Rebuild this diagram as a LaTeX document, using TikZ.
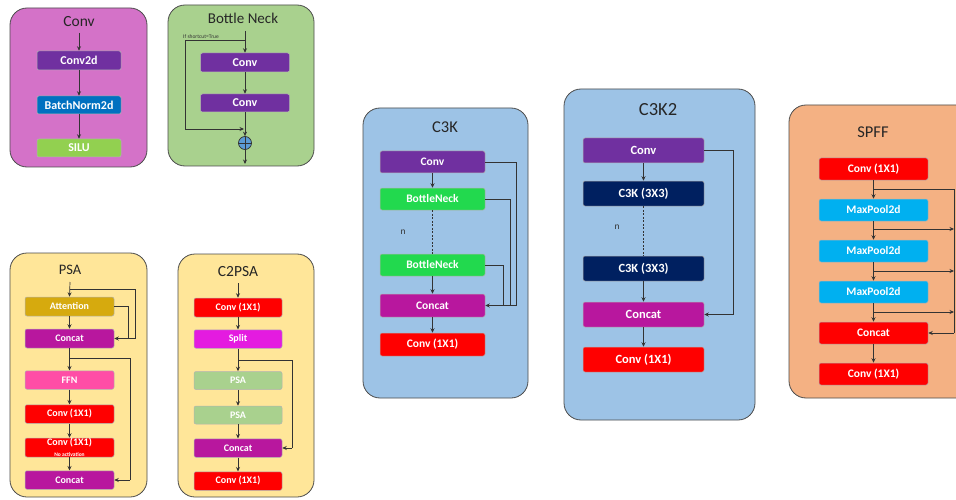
\documentclass[tikz,border=0pt]{standalone}
\usepackage{fontspec}
\setmainfont{Carlito}
\usetikzlibrary{arrows.meta,calc}
\definecolor{pConv}{HTML}{D472C8}
\definecolor{pGreen}{HTML}{A9D18E}
\definecolor{pYellow}{HTML}{FFE699}
\definecolor{pBlue}{HTML}{9DC3E6}
\definecolor{pOrange}{HTML}{F4B183}
\definecolor{cPurple}{HTML}{7030A0}
\definecolor{cBN}{HTML}{0070C0}
\definecolor{cSilu}{HTML}{92D050}
\definecolor{cAtt}{HTML}{D6AA0E}
\definecolor{cCat}{HTML}{B8179E}
\definecolor{cFFN}{HTML}{FF4DA6}
\definecolor{cSplit}{HTML}{E41BE0}
\definecolor{cPSA}{HTML}{A9D18E}
\definecolor{cBott}{HTML}{22D94E}
\definecolor{cNavy}{HTML}{002060}
\definecolor{cCyan}{HTML}{00B0F0}
\definecolor{cRed}{HTML}{FF0000}
\definecolor{cPlus}{HTML}{5B9BD5}
\begin{document}
\begin{tikzpicture}[x=1pt,y=-1pt,
  panel/.style={draw=black!70, line width=0.8pt, rounded corners=17pt},
  blk/.style={draw=black!30, line width=0.5pt, rounded corners=2pt, text=white, inner sep=0pt},
  ttl/.style={text=black!85, inner sep=0pt},
  ln/.style={draw=black!80, line width=0.7pt},
  arr/.style={ln, -{Stealth[length=4.5pt,width=4pt]}},
  fa/.style={font=\bfseries\fontsize{12}{12}\selectfont},
  fb/.style={font=\bfseries\fontsize{10}{10}\selectfont},
  fc/.style={font=\bfseries\fontsize{11.5}{12}\selectfont},
  fd/.style={font=\bfseries\fontsize{12.5}{13}\selectfont},
]
\clip (0,0) rectangle (956,500);
\fill[white] (0,0) rectangle (956,500);

% ---------------- Conv panel
\draw[panel, fill=pConv] (10,8) rectangle (147,167);
\node[ttl, font=\fontsize{15.5}{15.5}\selectfont] (convt) at (79,22) {Conv};
\coordinate (convin) at (79,33);
\node[blk, fa, fill=cPurple, minimum width=84pt, minimum height=19pt] (cv2d) at (79,60.5) {Conv2d};
\node[blk, fa, fill=cBN, minimum width=84pt, minimum height=18pt] (bn2d) at (79,105) {BatchNorm2d};
\node[blk, fa, fill=cSilu, minimum width=84pt, minimum height=18pt] (silu) at (79,148) {SILU};
\draw[arr] (convin) -- (cv2d.north);
\draw[arr] (cv2d.south) -- (bn2d.north);
\draw[arr] (bn2d.south) -- (silu.north);

% ---------------- Bottle Neck panel
\draw[panel, fill=pGreen] (168,5) rectangle (314,166);
\node[ttl, font=\fontsize{15}{15}\selectfont] (bnt) at (243,18) {Bottle Neck};
\coordinate (bnin) at (245,31);
\coordinate (bntap) at (245,40);
\coordinate (bnjoin) at (244,129);
\node[blk, fa, fill=cPurple, minimum width=89pt, minimum height=19pt] (bc1) at (245,62.5) {Conv};
\node[blk, fa, fill=cPurple, minimum width=89pt, minimum height=18pt] (bc2) at (245,103) {Conv};
\node[circle, draw=black!80, line width=0.7pt, fill=cPlus, minimum size=13pt, inner sep=0pt] (plus) at (245,143) {};
\draw[black!80, line width=0.7pt] (plus.north) -- (plus.south) (plus.west) -- (plus.east);
\coordinate (bnout) at (245,164);
\node[anchor=south west, inner sep=0pt, text=black!80, font=\fontsize{5.5}{5.5}\selectfont] (sclbl) at (183,38.5) {If shortcut=True};
\draw[arr] (bnin) -- (bc1.north);
\draw[arr] (bc1.south) -- (bc2.north);
\draw[arr] (bc2.south) -- (plus.north);
\draw[arr] (bntap) -- (185,40) -- (185,129) -- (bnjoin);
\draw[arr] (plus.south) -- (bnout);

% ---------------- PSA panel
\draw[panel, fill=pYellow] (10,253) rectangle (147,497);
\node[ttl, font=\fontsize{14.5}{14.5}\selectfont] (psat) at (70,270) {PSA};
\coordinate (psain) at (70,282);
\node[blk, fb, fill=cAtt, minimum width=89pt, minimum height=19pt] (att) at (69.5,306.5) {Attention};
\node[blk, fb, fill=cCat, minimum width=89pt, minimum height=19pt] (pcat1) at (69.5,338.5) {Concat};
\node[blk, fb, fill=cFFN, minimum width=89pt, minimum height=18.5pt] (ffn) at (69.5,380) {FFN};
\node[blk, fb, fill=cRed, minimum width=89pt, minimum height=18.5pt] (pconv1) at (69.5,414) {Conv (1X1)};
\node[blk, fill=cRed, minimum width=89pt, minimum height=19pt, align=center] (pconv2) at (69.5,447.5) {{\bfseries\fontsize{10}{10}\selectfont Conv (1X1)}\\[-1.5pt]{\bfseries\fontsize{5.5}{5.5}\selectfont No activation}};
\node[blk, fb, fill=cCat, minimum width=89pt, minimum height=18.5pt] (pcat2) at (69.5,480) {Concat};
\draw[arr] (psain) -- (att.north);
\draw[ln] (70,289) -- (135,289) -- (135,338.5);
\draw[ln] (att.east) -- (128,306.5) -- (128,338.5);
\draw[arr] (135,338.5) -- (pcat1.east);
\draw[arr] (pcat1.south) -- (ffn.north);
\draw[ln] (70,358) -- (130,358) -- (130,480);
\draw[arr] (130,480) -- (pcat2.east);
\draw[arr] (ffn.south) -- (pconv1.north);
\draw[arr] (pconv1.south) -- (pconv2.north);
\draw[arr] (pconv2.south) -- (pcat2.north);
\draw[arr] (att.south) -- (pcat1.north);

% ---------------- C2PSA panel
\draw[panel, fill=pYellow] (178,254) rectangle (314,497);
\node[ttl, font=\fontsize{15.5}{15.5}\selectfont] (c2t) at (238,272) {C2PSA};
\coordinate (c2in) at (238,283);
\node[blk, fb, fill=cRed, minimum width=88pt, minimum height=19pt] (c2conv) at (238,307.5) {Conv (1X1)};
\node[blk, fb, fill=cSplit, minimum width=88pt, minimum height=18.5pt] (split) at (238,339) {Split};
\node[blk, fb, fill=cPSA, minimum width=88pt, minimum height=18pt] (psa1) at (238,380.5) {PSA};
\node[blk, fb, fill=cPSA, minimum width=88pt, minimum height=18pt] (psa2) at (238,415) {PSA};
\node[blk, fb, fill=cCat, minimum width=88pt, minimum height=18.5pt] (c2cat) at (238,448) {Concat};
\node[blk, fb, fill=cRed, minimum width=88pt, minimum height=18.5pt] (c2out) at (238,481) {Conv (1X1)};
\draw[arr] (c2in) -- (c2conv.north);
\draw[arr] (c2conv.south) -- (split.north);
\draw[arr] (split.south) -- (psa1.north);
\draw[arr] (psa1.south) -- (psa2.north);
\draw[arr] (psa2.south) -- (c2cat.north);
\draw[arr] (c2cat.south) -- (c2out.north);
\draw[ln] (238,360) -- (292,360) -- (292,448);
\draw[arr] (292,448) -- (c2cat.east);

% ---------------- C3K panel
\draw[panel, fill=pBlue] (363,108) rectangle (528,398);
\node[ttl, font=\fontsize{16.5}{16.5}\selectfont] (c3t) at (445,127) {C3K};
\node[blk, fc, fill=cPurple, minimum width=105pt, minimum height=22pt] (k1conv) at (432.5,162) {Conv};
\node[blk, fc, fill=cBott, minimum width=105pt, minimum height=22pt] (kbn1) at (432.5,199) {BottleNeck};
\node[blk, fc, fill=cBott, minimum width=105pt, minimum height=22pt] (kbn2) at (432.5,265) {BottleNeck};
\node[blk, fc, fill=cCat, minimum width=105pt, minimum height=23pt] (kcat) at (432.5,305.5) {Concat};
\node[blk, fc, fill=cRed, minimum width=105pt, minimum height=23pt] (kout) at (432.5,344.5) {Conv (1X1)};
\node[text=black!80, font=\fontsize{9.5}{9.5}\selectfont, inner sep=0pt] (kn) at (403,232) {n};
\draw[arr] (k1conv.south) -- (kbn1.north);
\draw[ln, dashed, dash pattern=on 2pt off 1.5pt] (kbn1.south) -- (kbn2.north);
\draw[arr] (kbn2.south) -- (kcat.north);
\draw[arr] (kcat.south) -- (kout.north);
\draw[ln] (k1conv.east) -- (516,162) -- (516,305.5);
\draw[ln] (kbn1.east) -- (510,199) -- (510,305.5);
\draw[ln] (kbn2.east) -- (503,265) -- (503,305.5);
\draw[arr] (516,305.5) -- (kcat.east);

% ---------------- C3K2 panel
\draw[panel, fill=pBlue] (564,89) rectangle (755,420);
\node[ttl, font=\fontsize{18.5}{18.5}\selectfont] (c32t) at (658,110) {C3K2};
\node[blk, fd, fill=cPurple, minimum width=121pt, minimum height=25pt] (k2conv) at (643.5,150.5) {Conv};
\node[blk, fd, fill=cNavy, minimum width=121pt, minimum height=25pt] (k2a) at (643.5,193.5) {C3K (3X3)};
\node[blk, fd, fill=cNavy, minimum width=121pt, minimum height=25pt] (k2b) at (643.5,268.5) {C3K (3X3)};
\node[blk, fd, fill=cCat, minimum width=121pt, minimum height=25pt] (k2cat) at (643.5,314.5) {Concat};
\node[blk, fd, fill=cRed, minimum width=121pt, minimum height=25pt] (k2out) at (643.5,359.5) {Conv (1X1)};
\node[text=black!80, font=\fontsize{9.5}{9.5}\selectfont, inner sep=0pt] (k2n) at (617,227) {n};
\draw[arr] (k2conv.south) -- (k2a.north);
\draw[ln, dashed, dash pattern=on 2pt off 1.5pt] (k2a.south) -- (k2b.north);
\draw[arr] (k2b.south) -- (k2cat.north);
\draw[arr] (k2cat.south) -- (k2out.north);
\draw[ln] (k2conv.east) -- (733,150.5) -- (733,314.5);
\draw[arr] (733,314.5) -- (k2cat.east);

% ---------------- SPFF panel
\draw[panel, fill=pOrange] (789,105) rectangle (985,398);
\node[ttl, font=\fontsize{16.5}{16.5}\selectfont] (spt) at (873,132) {SPFF};
\node[blk, fc, fill=cRed, minimum width=109pt, minimum height=22pt] (sconv) at (873.5,169) {Conv (1X1)};
\node[blk, fc, fill=cCyan, minimum width=109pt, minimum height=22pt] (mp1) at (873.5,210) {MaxPool2d};
\node[blk, fc, fill=cCyan, minimum width=109pt, minimum height=22pt] (mp2) at (873.5,251) {MaxPool2d};
\node[blk, fc, fill=cCyan, minimum width=109pt, minimum height=22pt] (mp3) at (873.5,292) {MaxPool2d};
\node[blk, fc, fill=cRed, minimum width=109pt, minimum height=22pt] (scat) at (873.5,333) {Concat};
\node[blk, fc, fill=cRed, minimum width=109pt, minimum height=22pt] (sout) at (873.5,374) {Conv (1X1)};
\draw[arr] (sconv.south) -- (mp1.north);
\draw[arr] (mp1.south) -- (mp2.north);
\draw[arr] (mp2.south) -- (mp3.north);
\draw[arr] (mp3.south) -- (scat.north);
\draw[arr] (scat.south) -- (sout.north);
\draw[ln] (873.5,189) -- (954,189) -- (954,333);
\draw[arr] (954,333) -- (scat.east);
\draw[arr] (873.5,229) -- (954,229);
\draw[arr] (873.5,271) -- (954,271);
\draw[arr] (873.5,312) -- (954,312);
\end{tikzpicture}
\end{document}
